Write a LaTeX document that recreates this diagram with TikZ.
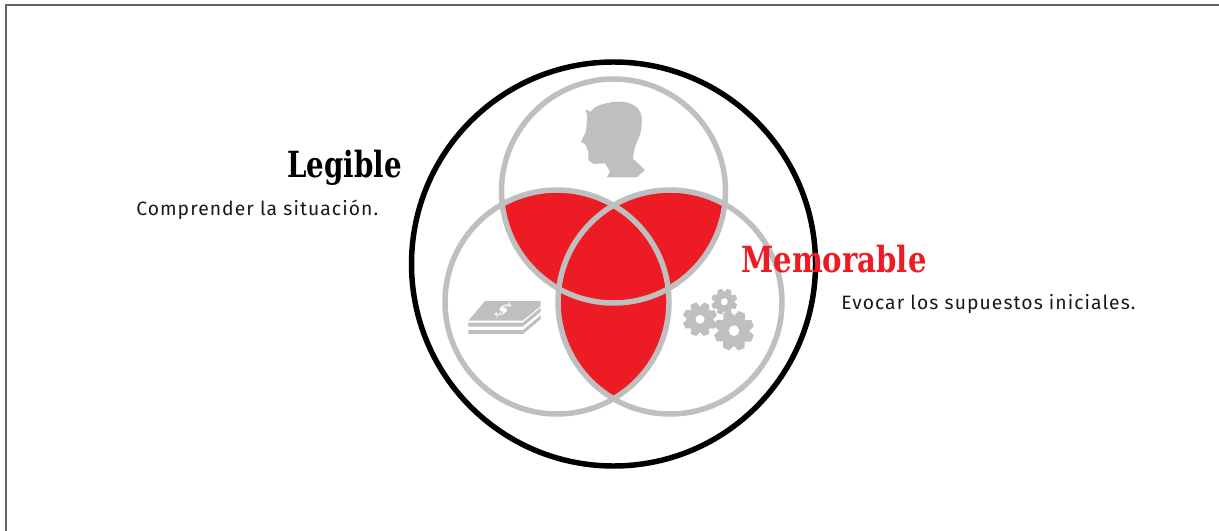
\documentclass[tikz,border=0pt]{standalone}
\usepackage{fontspec}
\newfontfamily\headfont[FakeStretch=0.9]{DejaVu Serif Condensed}
\newfontfamily\bodyfont[LetterSpace=5.5]{Fira Sans}
\definecolor{venngray}{HTML}{BFBFBF}
\definecolor{vennred}{HTML}{ED1C24}
\definecolor{framegray}{HTML}{666666}
\tikzstyle{frame line} = [draw,framegray,line width=1.5]
\tikzstyle{outer ring} = [draw,black,line width=4.1pt]
\tikzstyle{venn ring} = [draw,venngray,line width=4.1pt]
\tikzstyle{overlap} = [fill,vennred]
\tikzstyle{icon} = [fill,venngray]
\tikzstyle{title} = [font=\headfont\bfseries\fontsize{27}{27}\selectfont,inner sep=0pt]
\tikzstyle{caption} = [font=\bodyfont\fontsize{14.5}{16}\selectfont,inner sep=0pt,text=black!90]
% one gear: centre x, centre y, outer radius, hole radius
\newcommand{\gearicon}[4]{
  \begin{scope}[shift={(#1,#2)}]
    \fill[venngray] (0,0) circle ({0.77*#3});
    \foreach \angle in {0,45,...,315}
    {
      \fill[venngray,rotate=\angle+22] ({-0.28*#3},{0.72*#3}) -- ({-0.17*#3},#3) -- ({0.17*#3},#3) -- ({0.28*#3},{0.72*#3}) -- cycle;
    };
    \fill[white] (0,0) circle (#4);
  \end{scope}
}
\begin{document}
\begin{tikzpicture}[x=0.75pt,y=-0.75pt]
  \useasboundingbox (0,0) rectangle (1219,531);
  %frame
  \draw[frame line] (5.5,531) -- (5.5,5) -- (1219,5);
  %circles
  \coordinate (top) at (613.5,191);
  \coordinate (left) at (557,302);
  \coordinate (right) at (670,302);
  \coordinate (outer) at (613.5,264);
  \foreach \first/\second in {top/left, top/right, left/right}
  {
    \begin{scope}
      \clip (\first) circle (112);
      \fill[overlap] (\second) circle (112);
    \end{scope}
  };
  \foreach \ringname in {top,left,right}
  {
    \draw[venn ring] (\ringname) circle (112);
  };
  \draw[outer ring] (outer) circle (202);
  %head
  \fill[icon] (585.7,109.3) -- (590.7,111.7) .. controls (594,107) and (597,106) .. (600,105)
    .. controls (608,102.5) and (614,101.5) .. (620,101.7) .. controls (626,102) and (630,103) .. (633.3,105)
    .. controls (637,107) and (639,109) .. (640,111.7) .. controls (642,116) and (642,120) .. (641.7,123.3)
    .. controls (641.5,128) and (641,131) .. (640,135) -- (635,146.7) -- (632.7,158.3) -- (645,170)
    -- (636.7,177.3) -- (606.7,177.3) -- (610,171.7) -- (605,163.3) -- (593.3,164) -- (588.3,160)
    -- (588.3,151.7) -- (585.7,145) -- (581,141.7) -- (586,131.7) -- (587.3,116.7) -- cycle;
  %money
  \fill[icon] (485,301) -- (540.7,301) -- (540.7,306) -- (522.7,320.7) -- (468.3,320.7) -- cycle;
  \foreach \y in {0,7.5}
  {
    \fill[icon] (468.3,322.7+\y) -- (522.7,322.7+\y) -- (540.7,307.7+\y) -- (540.7,311.7+\y) -- (522.7,326.7+\y) -- (468.3,326.7+\y) -- cycle;
  };
  \node[text=white,font=\headfont\bfseries\fontsize{17}{17}\selectfont,inner sep=0pt,xslant=0.9,yscale=0.75,transform shape] (dollar) at (503.3,310) {\$};
  %gears
  \gearicon{700}{319.3}{17}{4.5}
  \gearicon{724.3}{301.7}{13}{3.5}
  \gearicon{734}{330.7}{20}{5.3}
  %labels
  \node[title,anchor=base east,xscale=0.95,transform shape] (legible) at (402,177) {Legible};
  \node[caption,anchor=base west] (legiblenote) at (136,215.5) {Comprender la situación.};
  \node[title,anchor=base west,text=vennred] (memorable) at (741,272) {Memorable};
  \node[caption,anchor=base west] (memorablenote) at (841,309) {Evocar los supuestos iniciales.};
\end{tikzpicture}
\end{document}
